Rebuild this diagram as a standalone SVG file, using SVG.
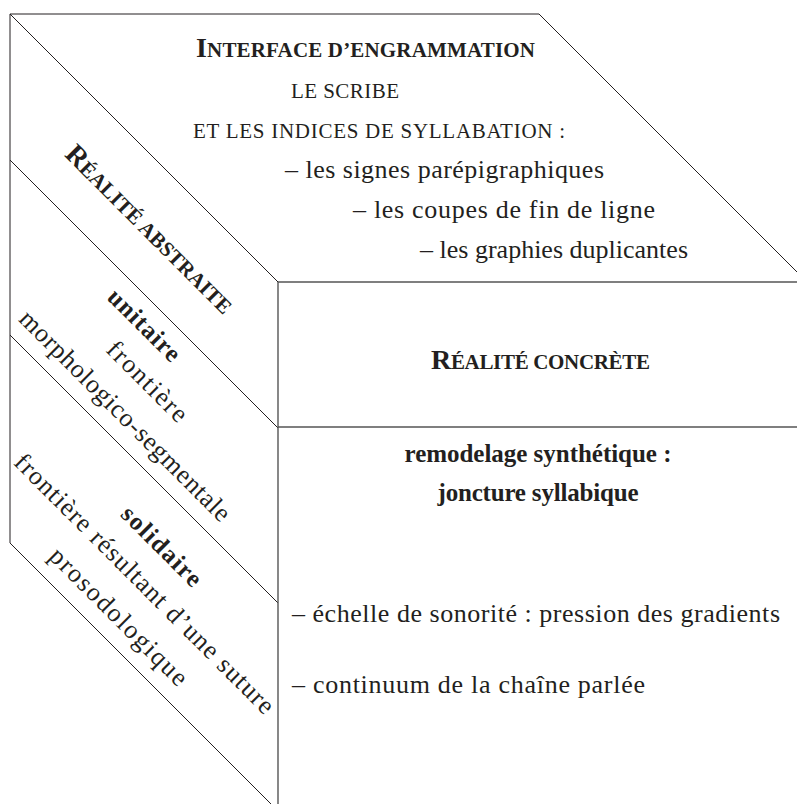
<svg xmlns="http://www.w3.org/2000/svg" width="797" height="804" viewBox="0 0 797 804">
<style>
.ln{stroke:#231f20;stroke-width:1;fill:none}
.hl{stroke:#555;stroke-width:1.4;fill:none}
text{font-family:"Liberation Serif","Times New Roman",serif;fill:#231f20}
.b{font-weight:bold}
.body{font-size:26px}
.bb{font-size:25px;font-weight:bold}
.sc{font-size:21px}
.bsc{font-size:21px;font-weight:bold}
.cap{font-size:28px}
</style>
<rect x="0" y="0" width="797" height="804" fill="#fff"/>
<g id="connectors">
<path class="ln" d="M10,14 H539 L807,282"/>
<path class="ln" d="M10,14 V543 L271,804"/>
<path class="ln" d="M10,14 L278,282"/>
<path class="ln" d="M10,160 L278,428"/>
<path class="ln" d="M10,335 L278,603"/>
<path class="hl" d="M278,282 V804"/>
<path class="hl" d="M278,282 H797"/>
<path class="hl" d="M278,427 H797"/>
</g>
<g id="top-face">
<text x="196" y="57" class="bsc" textLength="339" lengthAdjust="spacing"><tspan class="cap">I</tspan>NTERFACE D’ENGRAMMATION</text>
<text x="291" y="98" class="sc" textLength="108" lengthAdjust="spacing">LE SCRIBE</text>
<text x="193" y="138" class="sc" textLength="372" lengthAdjust="spacing">ET LES INDICES DE SYLLABATION :</text>
<text x="285" y="178" class="body" textLength="319" lengthAdjust="spacing">– les signes parépigraphiques</text>
<text x="353" y="218" class="body" textLength="302" lengthAdjust="spacing">– les coupes de fin de ligne</text>
<text x="420" y="258" class="body" textLength="268" lengthAdjust="spacing">– les graphies duplicantes</text>
</g>
<g id="front-top">
<text x="431" y="369" class="bsc" textLength="219" lengthAdjust="spacing"><tspan class="cap">R</tspan>ÉALITÉ CONCRÈTE</text>
</g>
<g id="front-bottom">
<text x="538" y="462" class="bb" text-anchor="middle" textLength="267" lengthAdjust="spacing">remodelage synthétique :</text>
<text x="538" y="501" class="bb" text-anchor="middle" textLength="201" lengthAdjust="spacing">joncture syllabique</text>
<text x="292" y="622" class="body" textLength="488" lengthAdjust="spacing">– échelle de sonorité : pression des gradients</text>
<text x="292" y="693" class="body" textLength="353" lengthAdjust="spacing">– continuum de la chaîne parlée</text>
</g>
<g id="left-face" transform="rotate(45)">
<text x="268" y="65" class="bsc" text-anchor="middle" textLength="226" lengthAdjust="spacing"><tspan class="cap">R</tspan>ÉALITÉ ABSTRAITE</text>
<text x="332" y="136" class="bb" text-anchor="middle" textLength="92" lengthAdjust="spacing">unitaire</text>
<text x="374" y="174" class="body" text-anchor="middle" textLength="103" lengthAdjust="spacing">frontière</text>
<text x="382.5" y="214" class="body" text-anchor="middle" textLength="287" lengthAdjust="spacing">morphologico-segmentale</text>
<text x="500.6" y="280" class="bb" text-anchor="middle" textLength="103" lengthAdjust="spacing">solidaire</text>
<text x="515" y="319" class="body" text-anchor="middle" textLength="356" lengthAdjust="spacing">frontière résultant d’une suture</text>
<text x="520" y="360.5" class="body" text-anchor="middle" textLength="184" lengthAdjust="spacing">prosodologique</text>
</g>
</svg>
